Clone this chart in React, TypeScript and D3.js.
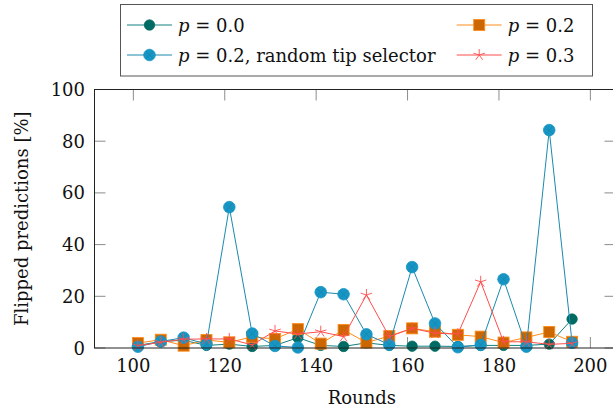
import React from "react";
import * as d3 from "d3";

const rounds = [101, 106, 111, 116, 121, 126, 131, 136, 141, 146, 151, 156, 161, 166, 171, 176, 181, 186, 191, 196];
const p00 = [1, 2.5, 3, 1, 1.5, 0.6, 1, 4, 1, 0.6, 2, 1, 0.7, 0.7, 0.6, 1, 1, 1, 1.5, 11.2];
const p02 = [1.9, 3.2, 0.9, 3.1, 2.2, 4.3, 3.5, 7.3, 1.7, 7.0, 2.1, 4.6, 7.6, 6.3, 5.1, 4.4, 2.1, 4.1, 6.2, 2.4];
const p02rand = [0.5, 2.5, 4.0, 1.5, 54.5, 5.6, 0.8, 0.2, 21.6, 20.8, 5.3, 1.3, 31.3, 9.5, 0.3, 1.2, 26.6, 0.5, 84.3, 2.0];
const p03 = [0.9, 2.2, 3.4, 3.5, 3.5, 1.2, 6.6, 5.4, 6.3, 4.4, 20.5, 4.4, 7.6, 5.7, 5.4, 25.6, 2.4, 2.4, 1.4, 1.8];
const xTicks = [100, 120, 140, 160, 180, 200];
const yTicks = [0, 20, 40, 60, 80, 100];

const FONT = "'DejaVu Serif', 'Liberation Serif', serif";

type Marker = "circle" | "square" | "cross-circle" | "star";
interface Series { name: string; values: number[]; line: string; fill: string; stroke: string; marker: Marker; }

const series: Series[] = [
  { name: "p00", values: p00, line: "#128080", fill: "#006b63", stroke: "#006b63", marker: "circle" },
  { name: "p02", values: p02, line: "#ff8c1a", fill: "#cc6600", stroke: "#ff8c1a", marker: "square" },
  { name: "p02rand", values: p02rand, line: "#1a8aad", fill: "#1696c4", stroke: "#1696c4", marker: "cross-circle" },
  { name: "p03", values: p03, line: "#ff4d4d", fill: "none", stroke: "#ff4d4d", marker: "star" },
];

function MarkerShape({ m, x, y, s }: { m: Marker; x: number; y: number; s: Series }) {
  if (m === "circle") return <circle cx={x} cy={y} r={5.2} fill={s.fill} stroke={s.stroke} strokeWidth={0.8} />;
  if (m === "cross-circle") {
    const r = 5.8, k = r * 0.6;
    return (
      <g>
        <circle cx={x} cy={y} r={r} fill={s.fill} stroke={s.stroke} strokeWidth={0.8} />
        <path d={`M${x - k},${y - k}L${x + k},${y + k}M${x - k},${y + k}L${x + k},${y - k}`} stroke="#1a7aa0" strokeWidth={0.7} opacity={0.7} />
      </g>
    );
  }
  if (m === "square") return <rect x={x - 5.5} y={y - 5.5} width={11} height={11} fill={s.fill} stroke={s.stroke} strokeWidth={0.9} />;
  const arms = d3.range(5).map((k) => {
    const a = -Math.PI / 2 + (k * 2 * Math.PI) / 5;
    return `M${x},${y}L${x + 6 * Math.cos(a)},${y + 6 * Math.sin(a)}`;
  }).join("");
  return <path d={arms} stroke={s.stroke} strokeWidth={0.9} fill="none" />;
}

export default function App() {
  const W = 613, H = 411;
  const left = 94.5, top = 89.5, bottom = 348, right = 615.5;
  const x = d3.scaleLinear().domain([91.5, 205.5]).range([left, right]);
  const y = d3.scaleLinear().domain([0, 100]).range([bottom, top]);
  const line = d3.line<number>().x((_, i) => x(rounds[i])).y((d) => y(d));
  const tickLen = 11;
  const FS = 18;

  const legendRows = [
    { s: series[0], label: "= 0.0", lx: 127, ly: 25 },
    { s: series[1], label: "= 0.2", lx: 456.7, ly: 25 },
    { s: series[2], label: "= 0.2, random tip selector", lx: 127, ly: 55 },
    { s: series[3], label: "= 0.3", lx: 456.7, ly: 55 },
  ];

  return (
    <svg width={W} height={H} style={{ position: "absolute", left: 0, top: 0, background: "#fff" }} fontFamily={FONT}>
      <rect width={W} height={H} fill="#fff" />
      <defs>
        <clipPath id="plotclip"><rect x={left} y={top - 8} width={right - left} height={bottom - top + 16} /></clipPath>
      </defs>
      <g stroke="#8c8c8c" strokeWidth={1}>
        {xTicks.map((t) => (
          <g key={"xt" + t}>
            <line x1={x(t)} x2={x(t)} y1={top} y2={top + tickLen} />
            <line x1={x(t)} x2={x(t)} y1={bottom} y2={bottom - tickLen} />
          </g>
        ))}
        {yTicks.map((t) => (
          <g key={"yt" + t}>
            <line x1={left} x2={left + tickLen} y1={y(t)} y2={y(t)} />
            <line x1={right} x2={right - tickLen} y1={y(t)} y2={y(t)} />
          </g>
        ))}
      </g>
      <g clipPath="url(#plotclip)">
        {series.map((s) => (
          <g key={s.name}>
            <path d={line(s.values) || ""} fill="none" stroke={s.line} strokeWidth={1} />
            {s.values.map((v, i) => <MarkerShape key={i} m={s.marker} x={x(rounds[i])} y={y(v)} s={s} />)}
          </g>
        ))}
      </g>
      <rect x={left} y={top} width={right - left} height={bottom - top} fill="none" stroke="#222" strokeWidth={1} />
      <g fontSize={FS} fill="#111">
        {xTicks.map((t) => (
          <text key={"xl" + t} x={x(t)} y={371.5} textAnchor="middle">{t}</text>
        ))}
        {yTicks.map((t) => (
          <text key={"yl" + t} x={85} y={y(t) + 6.5} textAnchor="end">{t}</text>
        ))}
      </g>
      <text x={x(150)} y={404} textAnchor="middle" fontSize={FS} fill="#111">Rounds</text>
      <text transform={`translate(28,${(top + bottom) / 2}) rotate(-90)`} textAnchor="middle" fontSize={FS} fill="#111">Flipped predictions [%]</text>
      <rect x={120.5} y={4.5} width={472} height={71.5} fill="#fff" stroke="#555" strokeWidth={1} />
      {legendRows.map((r, i) => (
        <g key={"lg" + i}>
          <line x1={r.lx} x2={r.lx + 45} y1={r.ly} y2={r.ly} stroke={r.s.line} strokeWidth={1} />
          <MarkerShape m={r.s.marker} x={r.lx + 22.5} y={r.ly} s={r.s} />
          <text x={r.lx + 51} y={r.ly + 6.5} fontSize={FS} fill="#111">
            <tspan fontStyle="italic">p</tspan> {r.label}
          </text>
        </g>
      ))}
    </svg>
  );
}
